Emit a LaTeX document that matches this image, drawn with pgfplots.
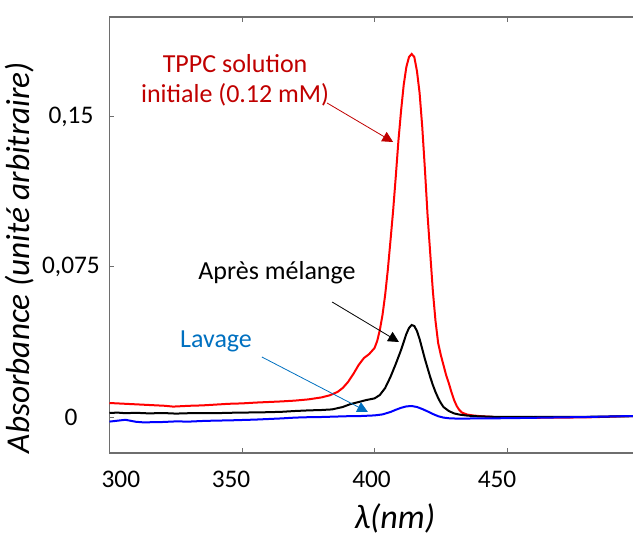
\documentclass[border=0pt]{standalone}
\usepackage{pgfplots}
\pgfplotsset{compat=1.18}
\usepackage{fontspec}
\setmainfont{Carlito}
\usetikzlibrary{arrows.meta}
\definecolor{annred}{RGB}{192,0,0}
\definecolor{annblue}{RGB}{0,112,192}
\definecolor{spine}{RGB}{110,110,110}
\begin{document}
\begin{tikzpicture}
\begin{axis}[
  scale only axis, width=392.6pt, height=327pt,
  xmin=300, xmax=497.5, ymin=-0.018, ymax=0.2,
  axis x line*=box, axis y line*=left,
  axis line style={spine, line width=0.9pt},
  tick align=inside, major tick length=3.5pt,
  tick style={spine, line width=0.75pt},
  xtick={300,350,400,450},
  xticklabels={{\hspace*{17pt}300},{350\hspace*{16.5pt}},{400\hspace*{4.5pt}},{450\hspace*{15pt}}},
  ytick={0,0.075,0.15}, yticklabels={0,{0,075},{0,15}},
  ticklabel style={font=\fontsize{19}{22}\selectfont},
  xticklabel style={anchor=center, yshift=-19.5pt},
  yticklabel style={anchor=center, xshift=-28.9pt},
  xlabel={\itshape λ(nm)}, ylabel={\itshape Absorbance (unité arbitraire)},
  every axis x label/.style={at={(axis description cs:0.545,-0.149)},anchor=center,font=\fontsize{25.5}{30}\selectfont},
  every axis y label/.style={at={(axis description cs:-0.172,0.448)},rotate=90,anchor=center,font=\fontsize{25}{30}\selectfont},
]
\addplot[red, line width=1.5pt] coordinates {
(300,0.0070)(303,0.0068)(306,0.0066)(309,0.0064)(312,0.0062)(315,0.0060)(318,0.0058)(321,0.0056)(324,0.0052)(327,0.0054)(330,0.0056)(335,0.0058)(340,0.0062)(345,0.0066)(350,0.0068)(355,0.0072)(360,0.0075)(365,0.0078)(370,0.0082)(375,0.0088)(380,0.0098)(383,0.0108)(386,0.0125)(388,0.0145)(390,0.0175)(392,0.0215)(394,0.0260)(396,0.0295)(398,0.0315)(400,0.0345)(401,0.0380)(402,0.0435)(403,0.0510)(404,0.0610)(405,0.0735)(406,0.0880)(407,0.1030)(408,0.1200)(409,0.1380)(410,0.1530)(411,0.1660)(412,0.1750)(413,0.1800)(414,0.1815)(415,0.1800)(416,0.1730)(417,0.1620)(418,0.1450)(419,0.1240)(420,0.1010)(421,0.0820)(422,0.0630)(423,0.0480)(424,0.0370)(425,0.0310)(426,0.0260)(427,0.0210)(428,0.0170)(429,0.0125)(430,0.0085)(431,0.0055)(432,0.0035)(433,0.0022)(435,0.0012)(437,0.0008)(440,0.0004)(445,0.0000)(450,-0.0003)(460,-0.0004)(470,-0.0003)(480,-0.0002)(490,0.0002)(497.5,0.0005)};
\addplot[black, line width=1.5pt] coordinates {
(300,0.0020)(303,0.0022)(306,0.0019)(310,0.0021)(315,0.0018)(320,0.0020)(325,0.0017)(330,0.0019)(335,0.0020)(340,0.0019)(345,0.0021)(350,0.0022)(355,0.0023)(360,0.0024)(365,0.0026)(370,0.0030)(375,0.0033)(380,0.0035)(384,0.0038)(388,0.0050)(391,0.0065)(394,0.0075)(397,0.0085)(400,0.0093)(402,0.0110)(404,0.0145)(406,0.0200)(408,0.0265)(410,0.0335)(411,0.0375)(412,0.0415)(413,0.0445)(414,0.0460)(415,0.0455)(416,0.0430)(417,0.0390)(418,0.0340)(419,0.0290)(420,0.0245)(421,0.0200)(422,0.0160)(423,0.0125)(424,0.0095)(425,0.0070)(426,0.0050)(428,0.0030)(430,0.0018)(432,0.0012)(435,0.0007)(438,0.0004)(445,0.0001)(460,0.0000)(480,0.0001)(497.5,0.0004)};
\addplot[blue, line width=1.5pt] coordinates {
(300,-0.0023)(302,-0.0020)(304,-0.0017)(306,-0.0014)(308,-0.0019)(310,-0.0024)(313,-0.0027)(316,-0.0026)(320,-0.0025)(325,-0.0022)(330,-0.0023)(335,-0.0020)(340,-0.0018)(345,-0.0017)(350,-0.0015)(355,-0.0013)(360,-0.0010)(365,-0.0007)(370,-0.0003)(375,-0.0001)(380,0.0000)(385,0.0002)(390,0.0004)(395,0.0005)(400,0.0008)(403,0.0013)(406,0.0025)(408,0.0036)(410,0.0046)(412,0.0053)(414,0.0055)(416,0.0050)(418,0.0040)(420,0.0028)(422,0.0015)(424,0.0004)(426,-0.0003)(428.5,-0.0007)(432,-0.0008)(440,-0.0007)(450,-0.0006)(460,-0.0004)(470,-0.0002)(480,0.0000)(490,0.0003)(497.5,0.0005)};
\node[annred, align=center, font=\fontsize{19.5}{22.5}\selectfont] at (axis cs:347.4,0.1685) {TPPC solution\\initiale (0.12 mM)};
\draw[annred, line width=0.6pt, -{Triangle[length=8pt,width=8pt]}] (axis cs:382.1,0.157) -- (axis cs:407,0.1375);
\node[black, font=\fontsize{19.5}{22.5}\selectfont] at (axis cs:363.2,0.072) {Après mélange};
\draw[black, line width=0.6pt, -{Triangle[length=8pt,width=8pt]}] (axis cs:384.0,0.0575) -- (axis cs:409.2,0.0375);
\node[annblue, font=\fontsize{19.5}{22.5}\selectfont] at (axis cs:340.2,0.038) {Lavage};
\draw[annblue, line width=0.6pt, -{Triangle[length=8pt,width=8pt]}] (axis cs:357.5,0.030) -- (axis cs:397.5,0.0025);
\end{axis}
\pgfresetboundingbox
\path (current axis.south west) ++(-82.125pt,-62.25pt) rectangle ++(474.75pt,402pt);
\end{tikzpicture}
\end{document}
